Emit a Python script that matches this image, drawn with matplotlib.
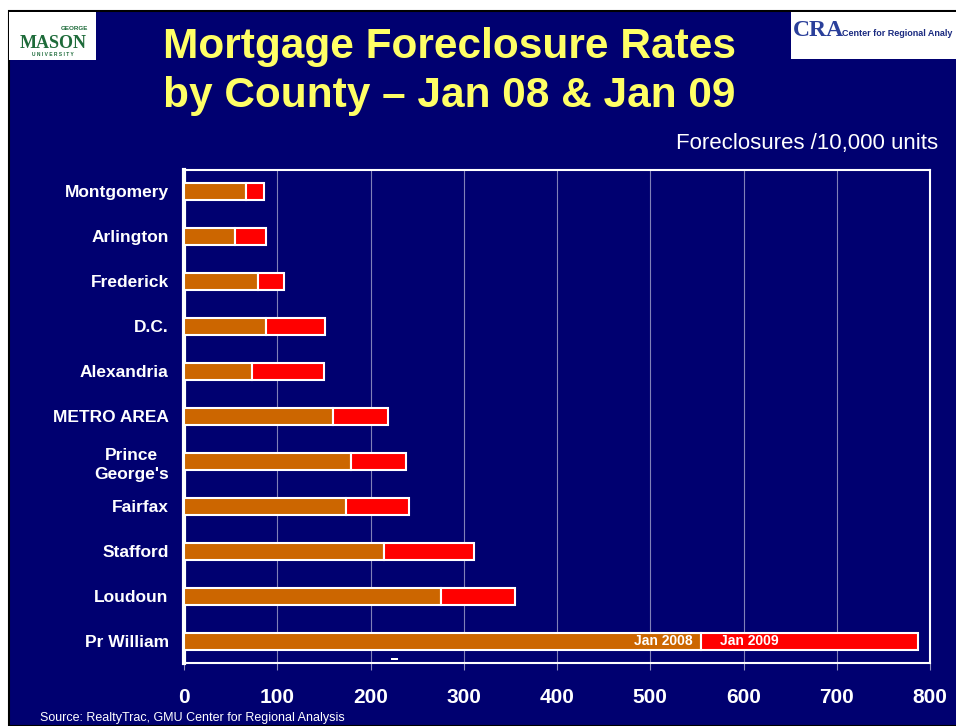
import matplotlib.pyplot as plt
from matplotlib.patches import Rectangle

plt.rcParams['font.family'] = ['Liberation Sans', 'DejaVu Sans']

counties = ['Montgomery', 'Arlington', 'Frederick', 'D.C.', 'Alexandria', 'METRO AREA',
            "Prince\nGeorge's", 'Fairfax', 'Stafford', 'Loudoun', 'Pr William']
jan08 = [67, 55, 79, 88, 73, 160, 179, 174, 214, 276, 554]
jan09 = [19, 33, 28, 63, 77, 59, 59, 67, 97, 79, 233]
xticks = [0, 100, 200, 300, 400, 500, 600, 700, 800]

navy = '#000070'
orange = '#CC6600'
red = '#FF0000'
yellow = '#FFFF66'

fig = plt.figure(figsize=(9.56, 7.26), dpi=100, facecolor='white')

# slide background
fig.add_artist(Rectangle((9 / 956, 0), 1, 1 - 11 / 726, transform=fig.transFigure,
                         facecolor=navy, edgecolor='black', linewidth=1.5, zorder=0))

# logos (approximated)
fig.add_artist(Rectangle((9 / 956, 1 - 60 / 726), 87 / 956, 48 / 726, transform=fig.transFigure,
                         facecolor='white', edgecolor='none', zorder=1))
fig.text(53 / 956, 1 - 48 / 726, 'MASON', color='#1E6B3A', fontsize=13, fontweight='bold',
         family='Liberation Serif', ha='center', va='baseline', zorder=2)
fig.text(88 / 956, 1 - 29 / 726, 'GEORGE', color='#1E6B3A', fontsize=4.5, fontweight='bold',
         ha='right', va='center', zorder=2)
fig.text(53 / 956, 1 - 54 / 726, 'U N I V E R S I T Y', color='#1E6B3A', fontsize=3.5,
         fontweight='bold', ha='center', va='center', zorder=2)

fig.add_artist(Rectangle((791 / 956, 1 - 59 / 726), 165 / 956, 47 / 726, transform=fig.transFigure,
                         facecolor='white', edgecolor='none', zorder=1))
fig.text(793 / 956, 1 - 31 / 726, 'CRA', color='#2A3F9A', fontsize=17, fontweight='bold',
         family='Liberation Serif', ha='left', va='center', zorder=2)
fig.text(842 / 956, 1 - 33 / 726, 'Center for Regional Analy', color='#1A2A80', fontsize=6.5,
         fontweight='bold', ha='left', va='center', zorder=2)

# title
fig.text(163 / 956, 1 - 47 / 726, 'Mortgage Foreclosure Rates', color=yellow, fontsize=30.5,
         fontweight='bold', ha='left', va='center')
fig.text(163 / 956, 1 - 96 / 726, 'by County \u2013 Jan 08 & Jan 09', color=yellow, fontsize=30.5,
         fontweight='bold', ha='left', va='center')
fig.text(938 / 956, 1 - 143 / 726, 'Foreclosures /10,000 units', color='white', fontsize=16,
         ha='right', va='center')
fig.text(40 / 956, 1 - 718 / 726, 'Source: RealtyTrac, GMU Center for Regional Analysis',
         color='white', fontsize=9, ha='left', va='center')

ax = fig.add_axes([184 / 956, 1 - 663 / 726, 746 / 956, 493 / 726])
ax.set_facecolor(navy)

y = list(range(len(counties)))[::-1]
ax.barh(y, jan08, height=0.38, color=orange, edgecolor='white', linewidth=1.5, zorder=3)
ax.barh(y, jan09, left=jan08, height=0.38, color=red, edgecolor='white', linewidth=1.5, zorder=3)

ax.text(jan08[-1] - 9, 0, 'Jan 2008', color='white', fontsize=10, fontweight='bold',
        ha='right', va='center', zorder=4)
ax.text(jan08[-1] + 21, 0, 'Jan 2009', color='white', fontsize=10, fontweight='bold',
        ha='left', va='center', zorder=4)

ax.set_xlim(0, 800)
ax.set_ylim(-0.48, 10.47)
ax.set_xticks(xticks)
ax.set_xticklabels([str(t) for t in xticks], color='white', fontsize=15, fontweight='bold')
ax.set_yticks(y)
ax.set_yticklabels(counties, color='white', fontsize=12.5, fontweight='bold',
                   multialignment='center', linespacing=1.35)
ax.tick_params(axis='x', direction='out', length=5, width=0.8, color='#9090C0', pad=13)
ax.tick_params(axis='y', length=0, pad=11)
ax.grid(axis='x', color='#8080B8', linewidth=0.8, zorder=1)
ax.set_axisbelow(True)

for side in ['top', 'right', 'bottom']:
    ax.spines[side].set_color('white')
    ax.spines[side].set_linewidth(1.5)
ax.spines['left'].set_color('white')
ax.spines['left'].set_linewidth(3)

# small stray mark near the bottom of the plot
fig.add_artist(Rectangle((391 / 956, 1 - 660 / 726), 7 / 956, 2 / 726, transform=fig.transFigure,
                         facecolor='white', edgecolor='none', zorder=5))

fig.savefig('out.png', dpi=100, facecolor=fig.get_facecolor())
